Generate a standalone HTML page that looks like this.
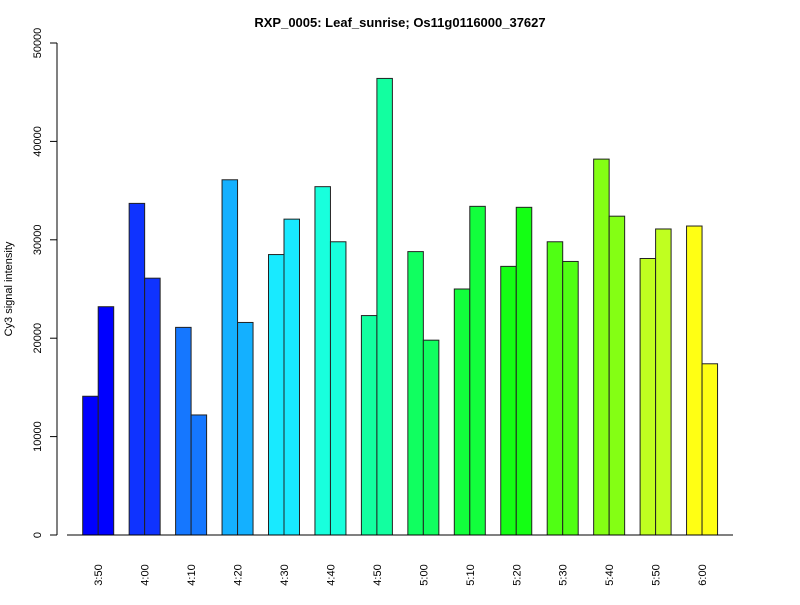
<!DOCTYPE html>
<html><head><meta charset="utf-8"><style>body{margin:0;background:#fff}svg text{font-family:"Liberation Sans",sans-serif}</style></head>
<body>
<svg id="chart" width="800" height="600" xmlns="http://www.w3.org/2000/svg">
<rect width="800" height="600" fill="#fff"/>
<text x="400" y="27" text-anchor="middle" font-size="13" font-weight="bold">RXP_0005: Leaf_sunrise; Os11g0116000_37627</text>
<text transform="translate(12,289) rotate(-90)" text-anchor="middle" font-size="11">Cy3 signal intensity</text>
<g id="bars"></g><g id="axes"></g>
</svg>
<script>
const categories=["3:50","4:00","4:10","4:20","4:30","4:40","4:50","5:00","5:10","5:20","5:30","5:40","5:50","6:00"];
const series1=[14100,33700,21100,36100,28500,35400,22300,28800,25000,27300,29800,38200,28100,31400];
const series2=[23200,26100,12200,21600,32100,29800,46400,19800,33400,33300,27800,32400,31100,17400];
const colors=["#0000FF","#0F33FF","#1577FF","#14B0FF","#18EAFF","#18FFDD","#12FFA0","#10FF60","#12FF3C","#14FF14","#50FF14","#84FF14","#C0FF20","#FFFF14"];
const yTicks=[0,10000,20000,30000,40000,50000];
const NS="http://www.w3.org/2000/svg";
const y=v=>535-v*(492/50000);
const x0=i=>82.7+i*46.45;
const bw=15.5;
const bars=document.getElementById('bars'),axes=document.getElementById('axes');
function mk(t,a,p){const e=document.createElementNS(NS,t);for(const k in a)e.setAttribute(k,a[k]);p.appendChild(e);return e;}
categories.forEach((c,i)=>{
 [series1[i],series2[i]].forEach((v,j)=>{
  const r=mk('rect',{x:x0(i)+j*bw,y:y(v),width:bw,height:535-y(v),fill:colors[i],stroke:"#222","stroke-width":1},bars);
  
  
 });
 const cx=x0(i)+bw;
 const t=mk('text',{transform:`translate(${cx+4},575) rotate(-90)`,"font-size":11,"text-anchor":"middle"},axes);
 t.textContent=c;
 
 
});
const xl=mk('line',{x1:67,x2:733,y1:535,y2:535,stroke:"#000"},axes);


const yl=mk('line',{x1:57,x2:57,y1:y(0),y2:y(50000),stroke:"#000"},axes);


yTicks.forEach(v=>{
 mk('line',{x1:50,x2:57,y1:y(v),y2:y(v),stroke:"#000"},axes);
 const t=mk('text',{transform:`translate(41,${y(v)}) rotate(-90)`,"font-size":11,"text-anchor":"middle"},axes);
 t.textContent=v;
 
 
});
</script>
</body></html>
